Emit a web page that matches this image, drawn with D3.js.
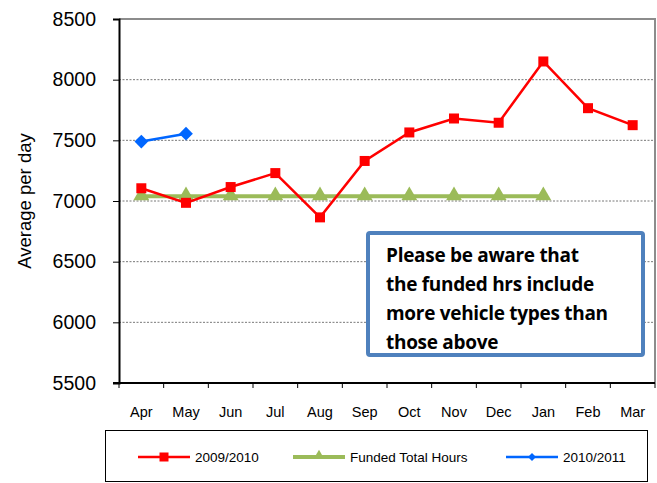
<!DOCTYPE html>
<html>
<head>
<meta charset="utf-8">
<script src="https://cdn.jsdelivr.net/npm/d3@7"></script>
<style>
  body { margin: 0; background: #fff; }
  svg { display: block; font-family: "Liberation Sans", Arial, sans-serif; }
</style>
</head>
<body>
<div class="chart"></div>
<script>
const months = ['Apr', 'May', 'Jun', 'Jul', 'Aug', 'Sep', 'Oct', 'Nov', 'Dec', 'Jan', 'Feb', 'Mar'];
const yTicks = [5500, 6000, 6500, 7000, 7500, 8000, 8500];

const y2009 = [7105, 6985, 7115, 7230, 6865, 7330, 7565, 7680, 7645, 8150, 7765, 7625];
const funded = [7040, 7040, 7040, 7040, 7040, 7040, 7040, 7040, 7040, 7040];
const y2010 = [7490, 7555];

const noteLines = ['Please be aware that', 'the funded hrs include', 'more vehicle types than', 'those above'];

const width = 657, height = 483;
const margin = {top: 19, right: 2, bottom: 100, left: 119};
const font = '"Liberation Sans", Arial, sans-serif';

const svg = d3.select('.chart').append('svg')
  .attr('width', width)
  .attr('height', height);

const x = d3.scaleBand()
  .domain(months)
  .range([margin.left, width - margin.right]);

const y = d3.scaleLinear()
  .domain([5500, 8500])
  .range([height - margin.bottom, margin.top]);

// gridlines
svg.append('g')
  .selectAll('line')
  .data(yTicks.filter(d => d > 5500 && d < 8500))
  .enter()
  .append('line')
  .attr('x1', margin.left)
  .attr('x2', width - margin.right)
  .attr('y1', d => y(d))
  .attr('y2', d => y(d))
  .attr('stroke', '#555')
  .attr('stroke-width', 0.8)
  .attr('stroke-dasharray', '2,1.5');

// plot frame (top & right gray)
svg.append('path')
  .attr('d', `M${margin.left},${margin.top}H${width - margin.right}V${height - margin.bottom}`)
  .attr('fill', 'none')
  .attr('stroke', '#8c8c8c')
  .attr('stroke-width', 2);

// y axis
let yAxis = svg.append('g')
  .attr('transform', `translate(${margin.left},0)`)
  .call(d3.axisLeft(y).tickValues(yTicks).tickFormat(d3.format('d')).tickSize(6).tickPadding(17));
yAxis.attr('font-family', font);
yAxis.select('.domain').attr('stroke', '#000').attr('stroke-width', 2);
yAxis.selectAll('.tick line').attr('stroke', '#000');
yAxis.selectAll('text').attr('font-size', 19.5).attr('fill', '#000');

// x axis
const xTickPos = months.map(m => x(m)).concat([x.range()[1]]);
svg.append('g')
  .selectAll('line')
  .data(xTickPos)
  .enter()
  .append('line')
  .attr('x1', d => d).attr('x2', d => d)
  .attr('y1', y(5500)).attr('y2', y(5500) + 5)
  .attr('stroke', '#000');

svg.append('line')
  .attr('x1', margin.left - 6).attr('x2', width - margin.right)
  .attr('y1', y(5500)).attr('y2', y(5500))
  .attr('stroke', '#000').attr('stroke-width', 2);

svg.append('g')
  .selectAll('text')
  .data(months)
  .enter()
  .append('text')
  .attr('x', d => x(d) + x.bandwidth() / 2)
  .attr('y', y(5500) + 34)
  .attr('text-anchor', 'middle')
  .attr('font-size', 14.5)
  .text(d => d);

// y title
svg.append('text')
  .attr('transform', `translate(31,${(y(5500) + y(8500)) / 2}) rotate(-90)`)
  .attr('text-anchor', 'middle')
  .attr('font-size', 18.5)
  .text('Average per day');

const cx = i => x(months[i]) + x.bandwidth() / 2;
const line = d3.line().x((d, i) => cx(i)).y(d => y(d));

// funded
svg.append('path')
  .datum(funded)
  .attr('d', line)
  .attr('fill', 'none')
  .attr('stroke', '#9BBB59')
  .attr('stroke-width', 4);

svg.append('g')
  .selectAll('path')
  .data(funded)
  .enter()
  .append('path')
  .attr('d', d3.symbol().type(d3.symbolTriangle).size(110))
  .attr('transform', (d, i) => `translate(${cx(i)},${y(d) - 0.5})`)
  .attr('fill', '#9BBB59');

// 2009/2010
svg.append('path')
  .datum(y2009)
  .attr('d', line)
  .attr('fill', 'none')
  .attr('stroke', '#FF0000')
  .attr('stroke-width', 2.5);

svg.append('g')
  .selectAll('rect')
  .data(y2009)
  .enter()
  .append('rect')
  .attr('x', (d, i) => cx(i) - 5)
  .attr('y', d => y(d) - 5)
  .attr('width', 10)
  .attr('height', 10)
  .attr('fill', '#FF0000');

// 2010/2011
svg.append('path')
  .datum(y2010)
  .attr('d', line)
  .attr('fill', 'none')
  .attr('stroke', '#0066FF')
  .attr('stroke-width', 2.5);

svg.append('g')
  .selectAll('path')
  .data(y2010)
  .enter()
  .append('path')
  .attr('d', d3.symbol().type(d3.symbolDiamond2).size(120))
  .attr('transform', (d, i) => `translate(${cx(i)},${y(d)})`)
  .attr('fill', '#0066FF');

// note box
const note = svg.append('g');
note.append('rect')
  .attr('x', 368).attr('y', 233)
  .attr('width', 275).attr('height', 122)
  .attr('rx', 2)
  .attr('fill', '#fff')
  .attr('stroke', '#4F81BD')
  .attr('stroke-width', 4);

note.selectAll('text')
  .data(noteLines)
  .enter()
  .append('text')
  .attr('x', 386)
  .attr('y', (d, i) => 262 + i * 29)
  .attr('font-family', '"Open Sans", Lato, sans-serif')
  .attr('font-weight', 'bold')
  .attr('font-size', 19)
  .attr('letter-spacing', -0.3)
  .text(d => d);

// legend
const legend = svg.append('g');
legend.append('rect')
  .attr('x', 105.5).attr('y', 430.5)
  .attr('width', 542).attr('height', 51)
  .attr('fill', '#fff')
  .attr('stroke', '#000')
  .attr('stroke-width', 1);

const legendItems = [
  {name: '2009/2010', color: '#FF0000', x: 138, w: 2.5, shape: 'square'},
  {name: 'Funded Total Hours', color: '#9BBB59', x: 293, w: 4, shape: 'triangle'},
  {name: '2010/2011', color: '#0066FF', x: 506, w: 2.5, shape: 'diamond'}
];

const ly = 457;
legendItems.forEach(item => {
  legend.append('line')
    .attr('x1', item.x).attr('x2', item.x + 52)
    .attr('y1', ly).attr('y2', ly)
    .attr('stroke', item.color).attr('stroke-width', item.w);
  let m = item.x + 26;
  if (item.shape === 'square') {
    legend.append('rect').attr('x', m - 4.5).attr('y', ly - 4.5).attr('width', 9).attr('height', 9).attr('fill', item.color);
  } else if (item.shape === 'triangle') {
    legend.append('path').attr('d', d3.symbol().type(d3.symbolTriangle).size(50)).attr('transform', `translate(${m},${ly - 1})`).attr('fill', item.color);
  } else {
    legend.append('path').attr('d', d3.symbol().type(d3.symbolDiamond2).size(40)).attr('transform', `translate(${m},${ly})`).attr('fill', item.color);
  }
  legend.append('text')
    .attr('x', item.x + 57)
    .attr('y', ly + 5)
    .attr('font-size', 13.5)
    .text(item.name);
});
</script>
</body>
</html>
